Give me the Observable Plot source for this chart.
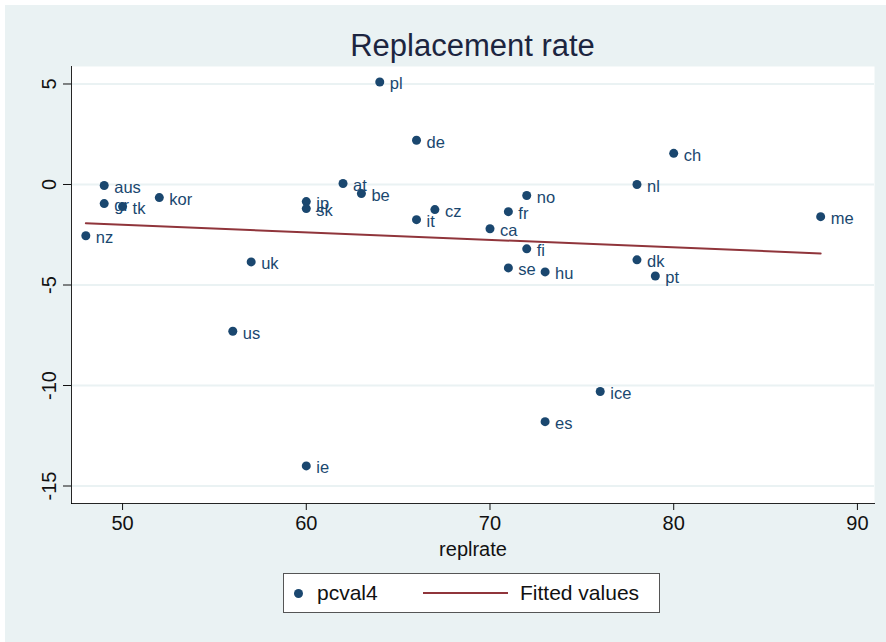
<!DOCTYPE html>
<html>
<head>
<meta charset="utf-8">
<script src="https://cdn.jsdelivr.net/npm/d3@7"></script>
<script src="https://cdn.jsdelivr.net/npm/@observablehq/plot@0.6"></script>
<style>
  body { margin: 0; background: #ffffff; font-family: "Liberation Sans", Arial, sans-serif; }
  #wrap { position: absolute; left: 5px; top: 5px; width: 881px; height: 637px; background: #eaf2f3; }
  #title { position: absolute; left: 66px; width: 803px; top: 25px; text-align: center;
           font-size: 31px; line-height: 31px; color: #1c2540; white-space: nowrap; }
  #chart { position: absolute; left: 0; top: 61px; }
  #legend { position: absolute; left: 278px; top: 568px; width: 375px; height: 38px;
            background: #fff; border: 1px solid #555; }
  #legend .dot { position: absolute; left: 10px; top: 15px; width: 9px; height: 9px; border-radius: 50%; background: #1a476f; }
  #legend .lbl { position: absolute; top: 8px; font-size: 21px; line-height: 22px; color: #111; white-space: nowrap; }
  #legend .ln { position: absolute; left: 139px; top: 18px; width: 85px; height: 2px; background: #90353b; }
</style>
</head>
<body>
<div id="wrap">
  <div id="title">Replacement rate</div>
  <div id="chart"></div>
  <div id="legend">
    <div class="dot"></div>
    <div class="lbl" style="left:33px">pcval4</div>
    <div class="ln"></div>
    <div class="lbl" style="left:236px">Fitted values</div>
  </div>
</div>
<script>
const countries = ["pl","de","ch","nl","me","aus","gr","tk","kor","nz","at","be","jp","sk","it","cz","no","fr","ca","fi","se","hu","dk","pt","uk","us","ice","es","ie"];
const replrate  = [64, 66, 80, 78, 88, 49, 49, 50, 52, 48, 62, 63, 60, 60, 66, 67, 72, 71, 70, 72, 71, 73, 78, 79, 57, 56, 76, 73, 60];
const pcval4    = [5.1, 2.2, 1.55, 0.0, -1.6, -0.05, -0.95, -1.1, -0.65, -2.55, 0.05, -0.45, -0.85, -1.2, -1.75, -1.25, -0.55, -1.35, -2.2, -3.2, -4.15, -4.35, -3.75, -4.55, -3.85, -7.3, -10.3, -11.8, -14.0];
const fitX = [48, 88];
const fitY = [-1.93, -3.43];
const xTicks = [50, 60, 70, 80, 90];
const yTicks = [-15, -10, -5, 0, 5];

const points = countries.map((c, i) => ({c, x: replrate[i], y: pcval4[i]}));
const fitted = fitX.map((x, i) => ({x, y: fitY[i]}));

const chart = Plot.plot({
  width: 881, height: 496,
  marginLeft: 66, marginRight: 12, marginTop: 0, marginBottom: 59,
  style: {background: "transparent", fontFamily: "Liberation Sans, Arial, sans-serif", overflow: "visible"},
  x: {domain: [47.22, 90.93]},
  y: {domain: [-15.87, 5.87]},
  marks: [
    Plot.frame({fill: "white", stroke: null}),
    Plot.gridY(yTicks, {stroke: "#eaf2f3", strokeOpacity: 1, strokeWidth: 2}),
    Plot.frame({anchor: "left", stroke: "#000", strokeOpacity: 0.85}),
    Plot.frame({anchor: "bottom", stroke: "#000", strokeOpacity: 0.85}),
    Plot.axisX(xTicks, {tickSize: 7, tickPadding: 5, fontSize: 20, color: "#111", tickFormat: d => String(d),
      label: "replrate", labelAnchor: "center", labelArrow: "none", labelOffset: 52}),
    Plot.axisY(yTicks, {tickSize: 8, tickPadding: 8, tickRotate: -90, fontSize: 20, color: "#111",
      tickFormat: d => String(d), label: null}),
    Plot.text(points, {x: "x", y: "y", text: "c", dx: 10, dy: 2, textAnchor: "start", fontSize: 16.5, fill: "#1a476f"}),
    Plot.dot(points, {x: "x", y: "y", r: 4.5, fill: "#1a476f"}),
    Plot.line(fitted, {x: "x", y: "y", stroke: "#90353b", strokeWidth: 2})
  ]
});
document.getElementById("chart").appendChild(chart);
</script>
</body>
</html>
